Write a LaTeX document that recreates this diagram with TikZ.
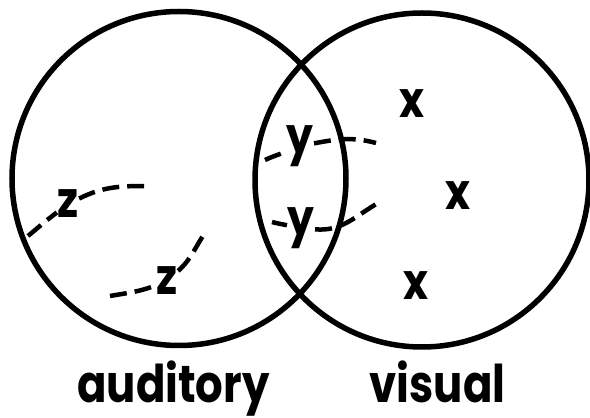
\documentclass[tikz,border=0pt]{standalone}
\usepackage{fontspec}
\setmainfont{Poppins}
\begin{document}
\begin{tikzpicture}[x=1pt,y=1pt,
  ring/.style={line width=5.5pt},
  dashline/.style={line width=4.5pt, dash pattern=on 17pt off 8pt},
  glyph/.style={font=\fontsize{50}{50}\selectfont\bfseries, inner sep=0.5pt, xscale=0.85},
  caption/.style={font=\fontsize{52}{52}\selectfont\bfseries, inner sep=0pt, anchor=base, xscale=0.835}
]
\useasboundingbox (0,0) rectangle (590,418);
% circles
\draw[ring] (179,239.5) circle (167);
\draw[ring] (422,238) circle (167);
% letters
\node[glyph] (z1) at (68,214) {z};
\node[glyph] (z2) at (167,137) {z};
\node[glyph] (y1) at (300,272) {y};
\node[glyph] (y2) at (301,190) {y};
\node[glyph] (x1) at (412,314) {x};
\node[glyph] (x2) at (458,222) {x};
\node[glyph] (x3) at (416,132) {x};
% dashed paths
\coordinate (s1) at (28,182);
\coordinate (e1) at (147,232);
\coordinate (s2) at (110,122);
\coordinate (e2) at (205,185);
\coordinate (s3) at (265,258);
\coordinate (e3) at (376,275);
\coordinate (s4) at (272,196);
\coordinate (e4) at (378,215);
\draw[dashline] (s1) to[out=40,in=215] (z1);
\draw[dashline] (z1) to[out=25,in=180] (e1);
\draw[dashline] (s2) to[out=10,in=200] (z2);
\draw[dashline] (z2) to[out=40,in=235] (e2);
\draw[dashline] (s3) to[out=25,in=200] (y1);
\draw[dashline] (y1) to[out=10,in=165] (e3);
\draw[dashline] (s4) to[out=-15,in=170] (y2);
\draw[dashline] (y2) to[out=-5,in=210] (e4);
% captions
\node[caption] (aud) at (173.5,15) {auditory};
\node[caption] (vis) at (437.5,15) {visual};
\end{tikzpicture}
\end{document}
